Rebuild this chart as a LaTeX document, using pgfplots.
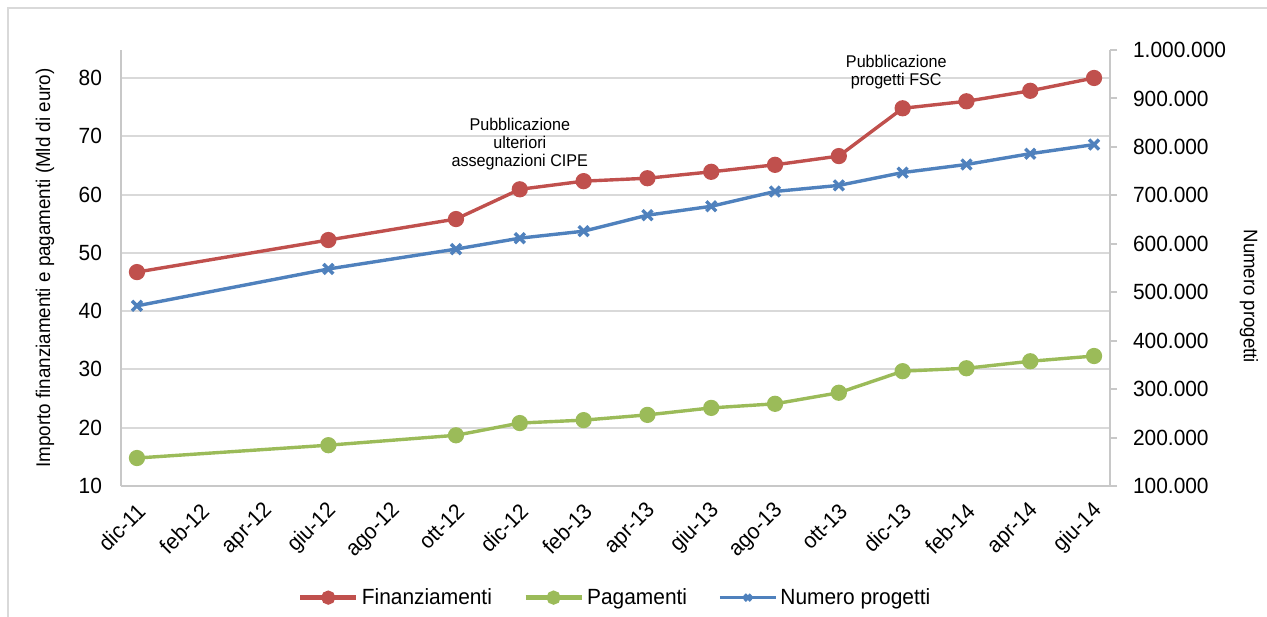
\documentclass[border=0pt]{standalone}
\usepackage{fontspec}
\setmainfont{Liberation Sans}[FakeStretch=0.95]
\usepackage{pgfplots}
\pgfplotsset{compat=1.18}
\definecolor{fin}{RGB}{192,80,77}
\definecolor{pag}{RGB}{155,187,89}
\definecolor{num}{RGB}{79,129,189}
\definecolor{grd}{RGB}{217,217,217}
\definecolor{axl}{RGB}{200,200,200}

\begin{document}
\begin{tikzpicture}
\path[use as bounding box] (0,0) rectangle (633.5pt,308pt);
\draw[grd, line width=1pt] (4pt,-10pt) rectangle (645pt,304pt);
\begin{axis}[
 at={(60.5pt,65pt)}, anchor=south west,
 scale only axis, width=494.5pt, height=218pt,
 xmin=-0.5, xmax=30.5, ymin=10, ymax=84.8,
 xtick={0,2,...,30},
 xticklabels={dic-11,feb-12,apr-12,giu-12,ago-12,ott-12,dic-12,feb-13,apr-13,giu-13,ago-13,ott-13,dic-13,feb-14,apr-14,giu-14},
 xticklabel style={xshift=3pt, yshift=-10pt, rotate=45, anchor=east, font=\fontsize{11}{13}\selectfont, inner sep=1pt},
 ytick={10,20,...,80},
 yticklabel style={font=\fontsize{11}{13}\selectfont, xshift=-6pt},
 axis x line*=bottom, axis y line*=left,
 axis line style={axl, line width=1pt},
 major tick length=0pt,
 ymajorgrids, grid style={grd, line width=1pt},
 ylabel={Importo finanziamenti e pagamenti (Mld di euro)},
 ylabel style={at={(axis description cs:-0.0768,0.5)}, anchor=center, font=\fontsize{9.9}{11}\selectfont},
 /pgf/number format/assume math mode=true,
 clip=false,
]
\addplot[fin, line width=1.7pt, mark=*, mark size=3.2pt] coordinates {
 (0,46.7) (6,52.2) (10,55.8) (12,60.9) (14,62.3) (16,62.8) (18,63.9) (20,65.1) (22,66.6) (24,74.8) (26,76.0) (28,77.8) (30,80.0)};
\addplot[pag, line width=1.7pt, mark=*, mark size=3.2pt] coordinates {
 (0,14.8) (6,17.0) (10,18.7) (12,20.8) (14,21.3) (16,22.2) (18,23.4) (20,24.1) (22,26.0) (24,29.7) (26,30.2) (28,31.4) (30,32.3)};
\node[align=center, font=\fontsize{8.5}{9}\selectfont] at (axis cs:12,68.7) {Pubblicazione\\ulteriori\\assegnazioni CIPE};
\node[align=center, font=\fontsize{8.5}{9}\selectfont] at (axis cs:23.8,81.0) {Pubblicazione\\progetti FSC};
\end{axis}
\begin{axis}[
 at={(60.5pt,65pt)}, anchor=south west,
 scale only axis, width=494.5pt, height=218pt,
 xmin=-0.5, xmax=30.5, ymin=100000, ymax=1000000,
 axis y line*=right, axis x line=none,
 ytick={100000,200000,...,1000000},
 scaled y ticks=false,
 yticklabel style={font=\fontsize{11}{13}\selectfont, xshift=4.5pt, /pgf/number format/.cd, fixed, 1000 sep={.}},
 /pgf/number format/assume math mode=true,
 axis line style={axl, line width=1pt},
 tick style={axl, line width=1pt},
 tick align=outside, major tick length=3.5pt,
 ylabel={Numero progetti},
 ylabel style={at={(axis description cs:1.1405,0.435)}, anchor=center, rotate=180, font=\fontsize{9.8}{11}\selectfont},
 legend style={at={(axis description cs:0.5,-0.256)}, anchor=center, legend columns=3, draw=none, fill=none, font=\fontsize{11}{13}\selectfont,
   nodes={inner xsep=1.5pt},
   /tikz/every even column/.append style={column sep=14pt}},
 legend image code/.code={\draw[mark repeat=2, mark phase=2, mark size=2.2pt] plot coordinates {(0pt,0pt)(14pt,0pt)(28pt,0pt)};},
 clip=false,
]
\addlegendimage{fin, line width=2.6pt, mark=*}
\addlegendentry{Finanziamenti}
\addlegendimage{pag, line width=2.6pt, mark=*}
\addlegendentry{Pagamenti}
\addplot[num, line width=1.7pt, mark=x, mark size=3.5pt] coordinates {
 (0,471900) (6,548000) (10,589000) (12,611600) (14,626000) (16,659000) (18,677400) (20,708000) (22,720500) (24,747000) (26,763700) (28,786000) (30,804800)};
\addlegendimage{num, line width=2.6pt, mark=x, mark size=2.5pt}
\addlegendentry{Numero progetti}
\end{axis}
\end{tikzpicture}
\end{document}
